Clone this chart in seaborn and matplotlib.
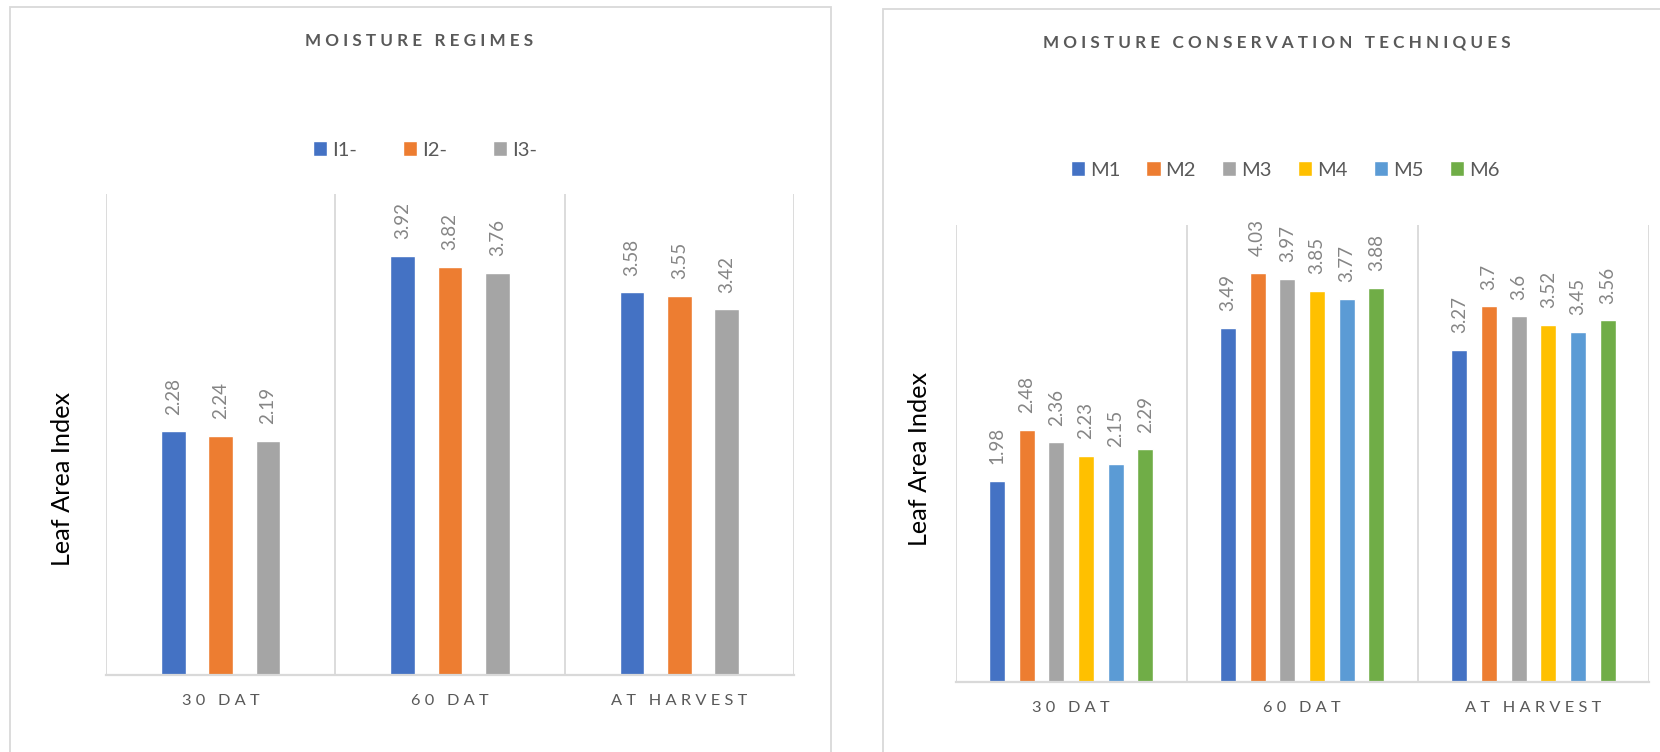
import matplotlib
matplotlib.use("Agg")
import matplotlib.pyplot as plt
import seaborn as sns
import pandas as pd
from matplotlib.patches import Rectangle

# ---- data ----
stages = ["30 DAT", "60 DAT", "AT HARVEST"]

regime_names = ["I1-", "I2-", "I3-"]
regime_i1 = [2.28, 3.92, 3.58]
regime_i2 = [2.24, 3.82, 3.55]
regime_i3 = [2.19, 3.76, 3.42]

tech_names = ["M1", "M2", "M3", "M4", "M5", "M6"]
tech_m1 = [1.98, 3.49, 3.27]
tech_m2 = [2.48, 4.03, 3.70]
tech_m3 = [2.36, 3.97, 3.60]
tech_m4 = [2.23, 3.85, 3.52]
tech_m5 = [2.15, 3.77, 3.45]
tech_m6 = [2.29, 3.88, 3.56]

regime_colors = ["#4472C4", "#ED7D31", "#A5A5A5"]
tech_colors = ["#4472C4", "#ED7D31", "#A5A5A5", "#FFC000", "#5B9BD5", "#70AD47"]

sns.set_theme(style="white")
FAM = ["Lato", "DejaVu Sans"]
plt.rcParams["font.family"] = FAM

W, H = 1660, 752
fig = plt.figure(figsize=(W / 100, H / 100), dpi=100)

GRID = "#D9D9D9"
TXT = "#595959"
LBL = "#858585"


def spaced(s):
    # letter-spaced caps for titles and category labels
    return " ".join(s)


def long_frame(names, series):
    rows = []
    for name, vals in zip(names, series):
        for st, v in zip(stages, vals):
            rows.append({"stage": st, "series": name, "lai": v})
    return pd.DataFrame(rows)


def panel(rect, df, names, colors, width, gap):
    ax = fig.add_axes(rect)
    sns.barplot(data=df, x="stage", y="lai", hue="series", order=stages,
                hue_order=names, palette=colors, width=width, gap=gap,
                saturation=1, errorbar=None, ax=ax, legend=True)
    ax.set_ylim(0, 4.5)
    ax.set_xlim(-0.5, 2.5)
    for x in [-0.5, 0.5, 1.5, 2.5]:
        ax.axvline(x, color=GRID, lw=1.3, zorder=0)
    for s in ["left", "right", "top"]:
        ax.spines[s].set_visible(False)
    ax.spines["bottom"].set_color(GRID)
    ax.spines["bottom"].set_linewidth(1.6)
    ax.set_yticks([])
    ax.set_xlabel("")
    ax.set_ylabel("")
    ax.tick_params(axis="x", length=0, pad=14)
    ax.set_xticks(range(len(stages)))
    ax.set_xticklabels([spaced(s) for s in stages], color=TXT, fontsize=11.8)
    for cont in ax.containers:
        ax.bar_label(cont, labels=[f"{b.get_height():g}" for b in cont],
                     rotation=90, padding=12, color=LBL, fontsize=13.5)
    handles, labels = ax.get_legend_handles_labels()
    ax.get_legend().remove()
    return ax, handles, labels


# outer chart frames
fig.patches.append(Rectangle((9.5 / W, -0.1), (831 - 9.5) / W, 1 - 7 / H + 0.1,
                             transform=fig.transFigure, fill=False,
                             ec=GRID, lw=1.3))
fig.patches.append(Rectangle((883 / W, -0.1), 1.0, 1 - 8.6 / H + 0.1,
                             transform=fig.transFigure, fill=False,
                             ec=GRID, lw=1.3))

# left: moisture regimes
df_r = long_frame(regime_names, [regime_i1, regime_i2, regime_i3])
axL, hL, lL = panel([106 / W, 1 - 675 / H, (794 - 106) / W, (675 - 194) / H],
                    df_r, regime_names, regime_colors, 0.62, 0.48)

# right: moisture conservation techniques
df_t = long_frame(tech_names, [tech_m1, tech_m2, tech_m3, tech_m4, tech_m5, tech_m6])
axR, hR, lR = panel([955.5 / W, 1 - 682 / H, (1649 - 955.5) / W, (682 - 225) / H],
                    df_t, tech_names, tech_colors, 0.77, 0.46)

fig.text(419 / W, 1 - 41 / H, spaced("MOISTURE REGIMES"), ha="center", va="center",
         fontsize=12.3, fontweight="bold", color=TXT)
fig.text(1277 / W, 1 - 42 / H, spaced("MOISTURE CONSERVATION TECHNIQUES"),
         ha="center", va="center", fontsize=12.3, fontweight="bold", color=TXT)

fig.text(62 / W, 1 - 479 / H, "Leaf Area Index", rotation=90, ha="center",
         va="center", fontsize=18.2, color="black")
fig.text(919 / W, 1 - 459 / H, "Leaf Area Index", rotation=90, ha="center",
         va="center", fontsize=18.2, color="black")

fig.legend(hL, lL, loc="center", bbox_to_anchor=(425 / W, 1 - 150 / H), ncol=3,
           frameon=False, fontsize=14.5, handlelength=0.7, handleheight=0.7,
           handletextpad=0.25, columnspacing=2.3, labelcolor=TXT)
fig.legend(hR, lR, loc="center", bbox_to_anchor=(1285 / W, 1 - 170 / H), ncol=6,
           frameon=False, fontsize=14.5, handlelength=0.7, handleheight=0.7,
           handletextpad=0.25, columnspacing=1.3, labelcolor=TXT)

fig.savefig("out.png", dpi=100, facecolor="white")
